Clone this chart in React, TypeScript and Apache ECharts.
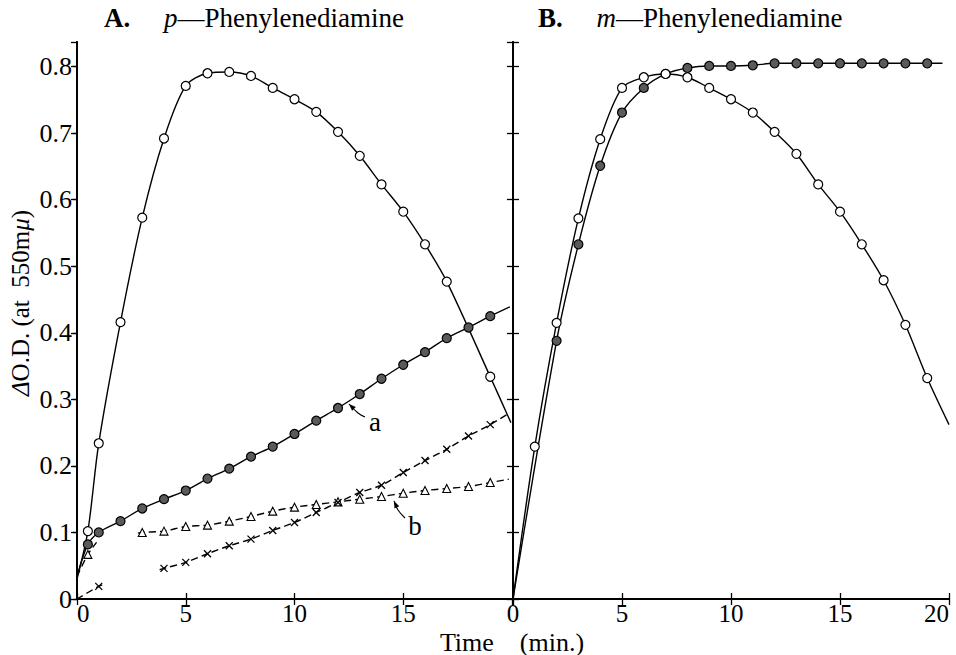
import React, { useEffect, useRef } from "react";
import * as echarts from "echarts";

// ---- Panel A: p-Phenylenediamine ----
const aOpenX = [0, 0.5, 1, 2, 3, 4, 5, 6, 7, 8, 9, 10, 11, 12, 13, 14, 15, 16, 17, 19, 19.95];
const aOpenY = [0.03, 0.102, 0.234, 0.416, 0.573, 0.692, 0.771, 0.79, 0.792, 0.786, 0.768, 0.751, 0.732, 0.702, 0.666, 0.623, 0.582, 0.533, 0.477, 0.334, 0.265];

const aHatchX = [0, 0.5, 1, 2, 3, 4, 5, 6, 7, 8, 9, 10, 11, 12, 13, 14, 15, 16, 17, 18, 19, 19.9];
const aHatchY = [0.034, 0.082, 0.1, 0.117, 0.136, 0.15, 0.163, 0.181, 0.196, 0.214, 0.229, 0.248, 0.268, 0.287, 0.308, 0.331, 0.352, 0.371, 0.392, 0.408, 0.425, 0.439];

const aTriEarlyX = [0, 0.5, 0.9];
const aTriEarlyY = [0.034, 0.067, 0.085];
const aTriX = [2.8, 3, 4, 5, 6, 7, 8, 9, 10, 11, 12, 13, 14, 15, 16, 17, 18, 19, 19.85];
const aTriY = [0.099, 0.1, 0.102, 0.109, 0.111, 0.117, 0.124, 0.132, 0.138, 0.142, 0.146, 0.15, 0.154, 0.159, 0.163, 0.166, 0.169, 0.175, 0.18];

const aCrossEarlyX = [0, 1, 1.3];
const aCrossEarlyY = [0, 0.019, 0.023];
const aCrossX = [3.8, 4, 5, 6, 7, 8, 9, 10, 11, 12, 13, 14, 15, 16, 17, 18, 19, 19.9];
const aCrossY = [0.044, 0.046, 0.055, 0.068, 0.08, 0.09, 0.103, 0.115, 0.13, 0.145, 0.16, 0.171, 0.19, 0.208, 0.225, 0.245, 0.262, 0.28];

// ---- Panel B: m-Phenylenediamine ----
const bOpenX = [0, 1, 2, 3, 4, 5, 6, 7, 8, 9, 10, 11, 12, 13, 14, 15, 16, 17, 18, 19, 20];
const bOpenY = [0, 0.229, 0.415, 0.572, 0.691, 0.768, 0.784, 0.789, 0.784, 0.768, 0.751, 0.731, 0.702, 0.669, 0.623, 0.582, 0.533, 0.479, 0.412, 0.332, 0.262];

const bHatchX = [0, 2, 3, 4, 5, 6, 7, 8, 9, 10, 11, 12, 13, 14, 15, 16, 17, 18, 19, 19.7];
const bHatchY = [0, 0.388, 0.533, 0.651, 0.731, 0.768, 0.789, 0.798, 0.801, 0.801, 0.802, 0.805, 0.805, 0.805, 0.805, 0.805, 0.805, 0.805, 0.805, 0.805];

// endpoints drawn without a marker (curve start/end only)
const aOpenBare = [0, 20];
const aHatchBare = [0, 21];
const aTriEarlyBare = [0, 2];
const aTriBare = [0, 18];
const aCrossEarlyBare = [0, 2];
const aCrossBare = [0, 17];
const bOpenBare = [0, 20];
const bHatchBare = [0, 19];

const xTicks = { min: 0, max: 20, interval: 5 };
const yTicks = { min: 0, max: 0.837, interval: 0.1 };

const FONT = "'Liberation Serif', 'DejaVu Serif', serif";

function pts(xs: number[], ys: number[], bare: number[]) {
  return xs.map((x, i) =>
    bare.includes(i) ? { value: [x, ys[i]], symbol: "none" } : { value: [x, ys[i]] }
  );
}

function arrowHead(p0: number[], p1: number[], len = 7, half = 2.6) {
  const dx = p1[0] - p0[0];
  const dy = p1[1] - p0[1];
  const L = Math.hypot(dx, dy);
  const ux = dx / L, uy = dy / L;
  const px = -uy, py = ux;
  const bx = p1[0] - ux * len, by = p1[1] - uy * len;
  return [p1, [bx + px * half, by + py * half], [bx - px * half, by - py * half]];
}

export default function App() {
  const ref = useRef<HTMLDivElement>(null);
  useEffect(() => {
    if (!ref.current) return;
    const chart = echarts.init(ref.current, undefined, { renderer: "svg" });

    const axisLine = { show: true, lineStyle: { color: "#000", width: 1.8 } };
    const tickStyle = { color: "#000", width: 1.3 };
    const yFmt = (v: number) => {
      const t = v * 10;
      if (Math.abs(t - Math.round(t)) > 1e-6) return "";
      return v === 0 ? "0" : v.toFixed(1);
    };

    const xAx = (grid: number, pos: "top" | "bottom", labels: boolean, showMax: boolean, extra: any = {}) => ({
      type: "value",
      gridIndex: grid,
      position: pos,
      ...xTicks,
      axisLine,
      axisTick: { show: true, inside: true, length: 6, lineStyle: tickStyle },
      axisLabel: {
        show: labels,
        showMaxLabel: showMax,
        fontSize: 25,
        fontFamily: FONT,
        color: "#000",
        margin: 2,
        ...extra,
      },
      splitLine: { show: false },
    });
    const yAx = (grid: number, pos: "left" | "right", labels: boolean, inside: boolean, len = 6) => ({
      type: "value",
      gridIndex: grid,
      position: pos,
      ...yTicks,
      axisLine,
      axisTick: { show: true, inside, length: len, lineStyle: tickStyle },
      axisLabel: {
        show: labels,
        showMaxLabel: false,
        formatter: yFmt,
        fontSize: 26,
        fontFamily: FONT,
        color: "#000",
        margin: 5,
      },
      splitLine: { show: false },
    });

    const openSym = { symbol: "circle", symbolSize: 9, itemStyle: { color: "#fff", borderColor: "#000", borderWidth: 1.2 } };
    const hatchSym = { symbol: "circle", symbolSize: 9, itemStyle: { color: "#5a5a5a", borderColor: "#000", borderWidth: 1.2 } };
    const triSym = { symbol: "triangle", symbolSize: 8, itemStyle: { color: "#fff", borderColor: "#000", borderWidth: 1.1 } };
    const crossSym = { symbol: "path://M0,0L10,10M0,10L10,0", symbolSize: 7, itemStyle: { color: "none", borderColor: "#000", borderWidth: 1.3 } };

    const line = (grid: number, data: any[], sym: any, dashed: boolean, smooth = 0.3) => ({
      type: "line",
      xAxisIndex: grid === 0 ? 0 : 2,
      yAxisIndex: grid === 0 ? 0 : 2,
      data,
      smooth,
      showSymbol: true,
      ...sym,
      lineStyle: { color: "#000", width: 1.4, type: dashed ? [7, 4] : "solid" },
      z: 3,
    });

    const aArrow = [[365, 417], [358, 413], [349, 404]];
    const bArrow = [[405, 518], [398, 510], [394, 501]];

    const titleStyle = (label: string, it: string) => ({
      text: `{b|${label}}     {i|${it}}—Phenylenediamine`,
      fontSize: 27,
      fontFamily: FONT,
      fill: "#000",
      textVerticalAlign: "middle",
      rich: {
        b: { fontSize: 27, fontFamily: FONT, fontWeight: "bold", fill: "#000" },
        i: { fontSize: 27, fontFamily: FONT, fontStyle: "italic", fill: "#000" },
      },
    });

    chart.setOption({
      animation: false,
      backgroundColor: "#fff",
      grid: [
        { left: 77, right: 444, top: 42, bottom: 56, outerBoundsMode: "none", containLabel: false },
        { left: 513, right: 7, top: 42, bottom: 56, outerBoundsMode: "none", containLabel: false },
      ],
      xAxis: [
        xAx(0, "bottom", true, false, { alignMinLabel: "left" }),
        xAx(0, "top", false, false),
        xAx(1, "bottom", true, true, { alignMaxLabel: "right" }),
        xAx(1, "top", false, false),
      ],
      yAxis: [
        yAx(0, "left", true, false, 4),
        yAx(0, "right", false, true),
        yAx(1, "left", false, true),
        yAx(1, "right", false, true),
      ],
      series: [
        line(0, pts(aOpenX, aOpenY, aOpenBare), openSym, false),
        line(0, pts(aHatchX, aHatchY, aHatchBare), hatchSym, false),
        line(0, pts(aTriEarlyX, aTriEarlyY, aTriEarlyBare), triSym, true),
        line(0, pts(aTriX, aTriY, aTriBare), triSym, true),
        line(0, pts(aCrossEarlyX, aCrossEarlyY, aCrossEarlyBare), crossSym, true),
        line(0, pts(aCrossX, aCrossY, aCrossBare), crossSym, true),
        line(1, pts(bHatchX, bHatchY, bHatchBare), hatchSym, false),
        line(1, pts(bOpenX, bOpenY, bOpenBare), openSym, false),
      ],
      graphic: [
        { type: "text", x: 104, y: 18, style: titleStyle("A.", "p") },
        { type: "text", x: 538, y: 18, style: titleStyle("B.", "m") },
        {
          type: "text",
          x: 20,
          y: 303,
          rotation: Math.PI / 2,
          style: {
            text: "{i|Δ}O.D. (at  550m{i|μ})",
            fontSize: 25,
            fontFamily: FONT,
            fill: "#000",
            textAlign: "center",
            textVerticalAlign: "middle",
            rich: {
              i: { fontSize: 25, fontFamily: FONT, fontStyle: "italic", fill: "#000" },
            },
          },
        },
        {
          type: "text",
          x: 512,
          y: 642,
          style: {
            text: "Time    (min.)",
            fontSize: 26,
            fontFamily: FONT,
            fill: "#000",
            textAlign: "center",
            textVerticalAlign: "middle",
          },
        },
        {
          type: "text",
          x: 375,
          y: 422,
          style: { text: "a", fontSize: 27, fontFamily: FONT, fill: "#000", textAlign: "center", textVerticalAlign: "middle" },
        },
        {
          type: "text",
          x: 415,
          y: 526,
          style: { text: "b", fontSize: 27, fontFamily: FONT, fill: "#000", textAlign: "center", textVerticalAlign: "middle" },
        },
        {
          type: "polyline",
          shape: { points: aArrow, smooth: 0.4 },
          style: { stroke: "#000", lineWidth: 1.1, fill: null },
        },
        {
          type: "polygon",
          shape: { points: arrowHead(aArrow[1], aArrow[2]) },
          style: { fill: "#000" },
        },
        {
          type: "polyline",
          shape: { points: bArrow, smooth: 0.4 },
          style: { stroke: "#000", lineWidth: 1.1, fill: null },
        },
        {
          type: "polygon",
          shape: { points: arrowHead(bArrow[1], bArrow[2]) },
          style: { fill: "#000" },
        },
      ],
    });

    return () => chart.dispose();
  }, []);

  return (
    <div
      ref={ref}
      style={{ position: "fixed", left: 0, top: 0, width: 956, height: 655, background: "#fff" }}
    />
  );
}
